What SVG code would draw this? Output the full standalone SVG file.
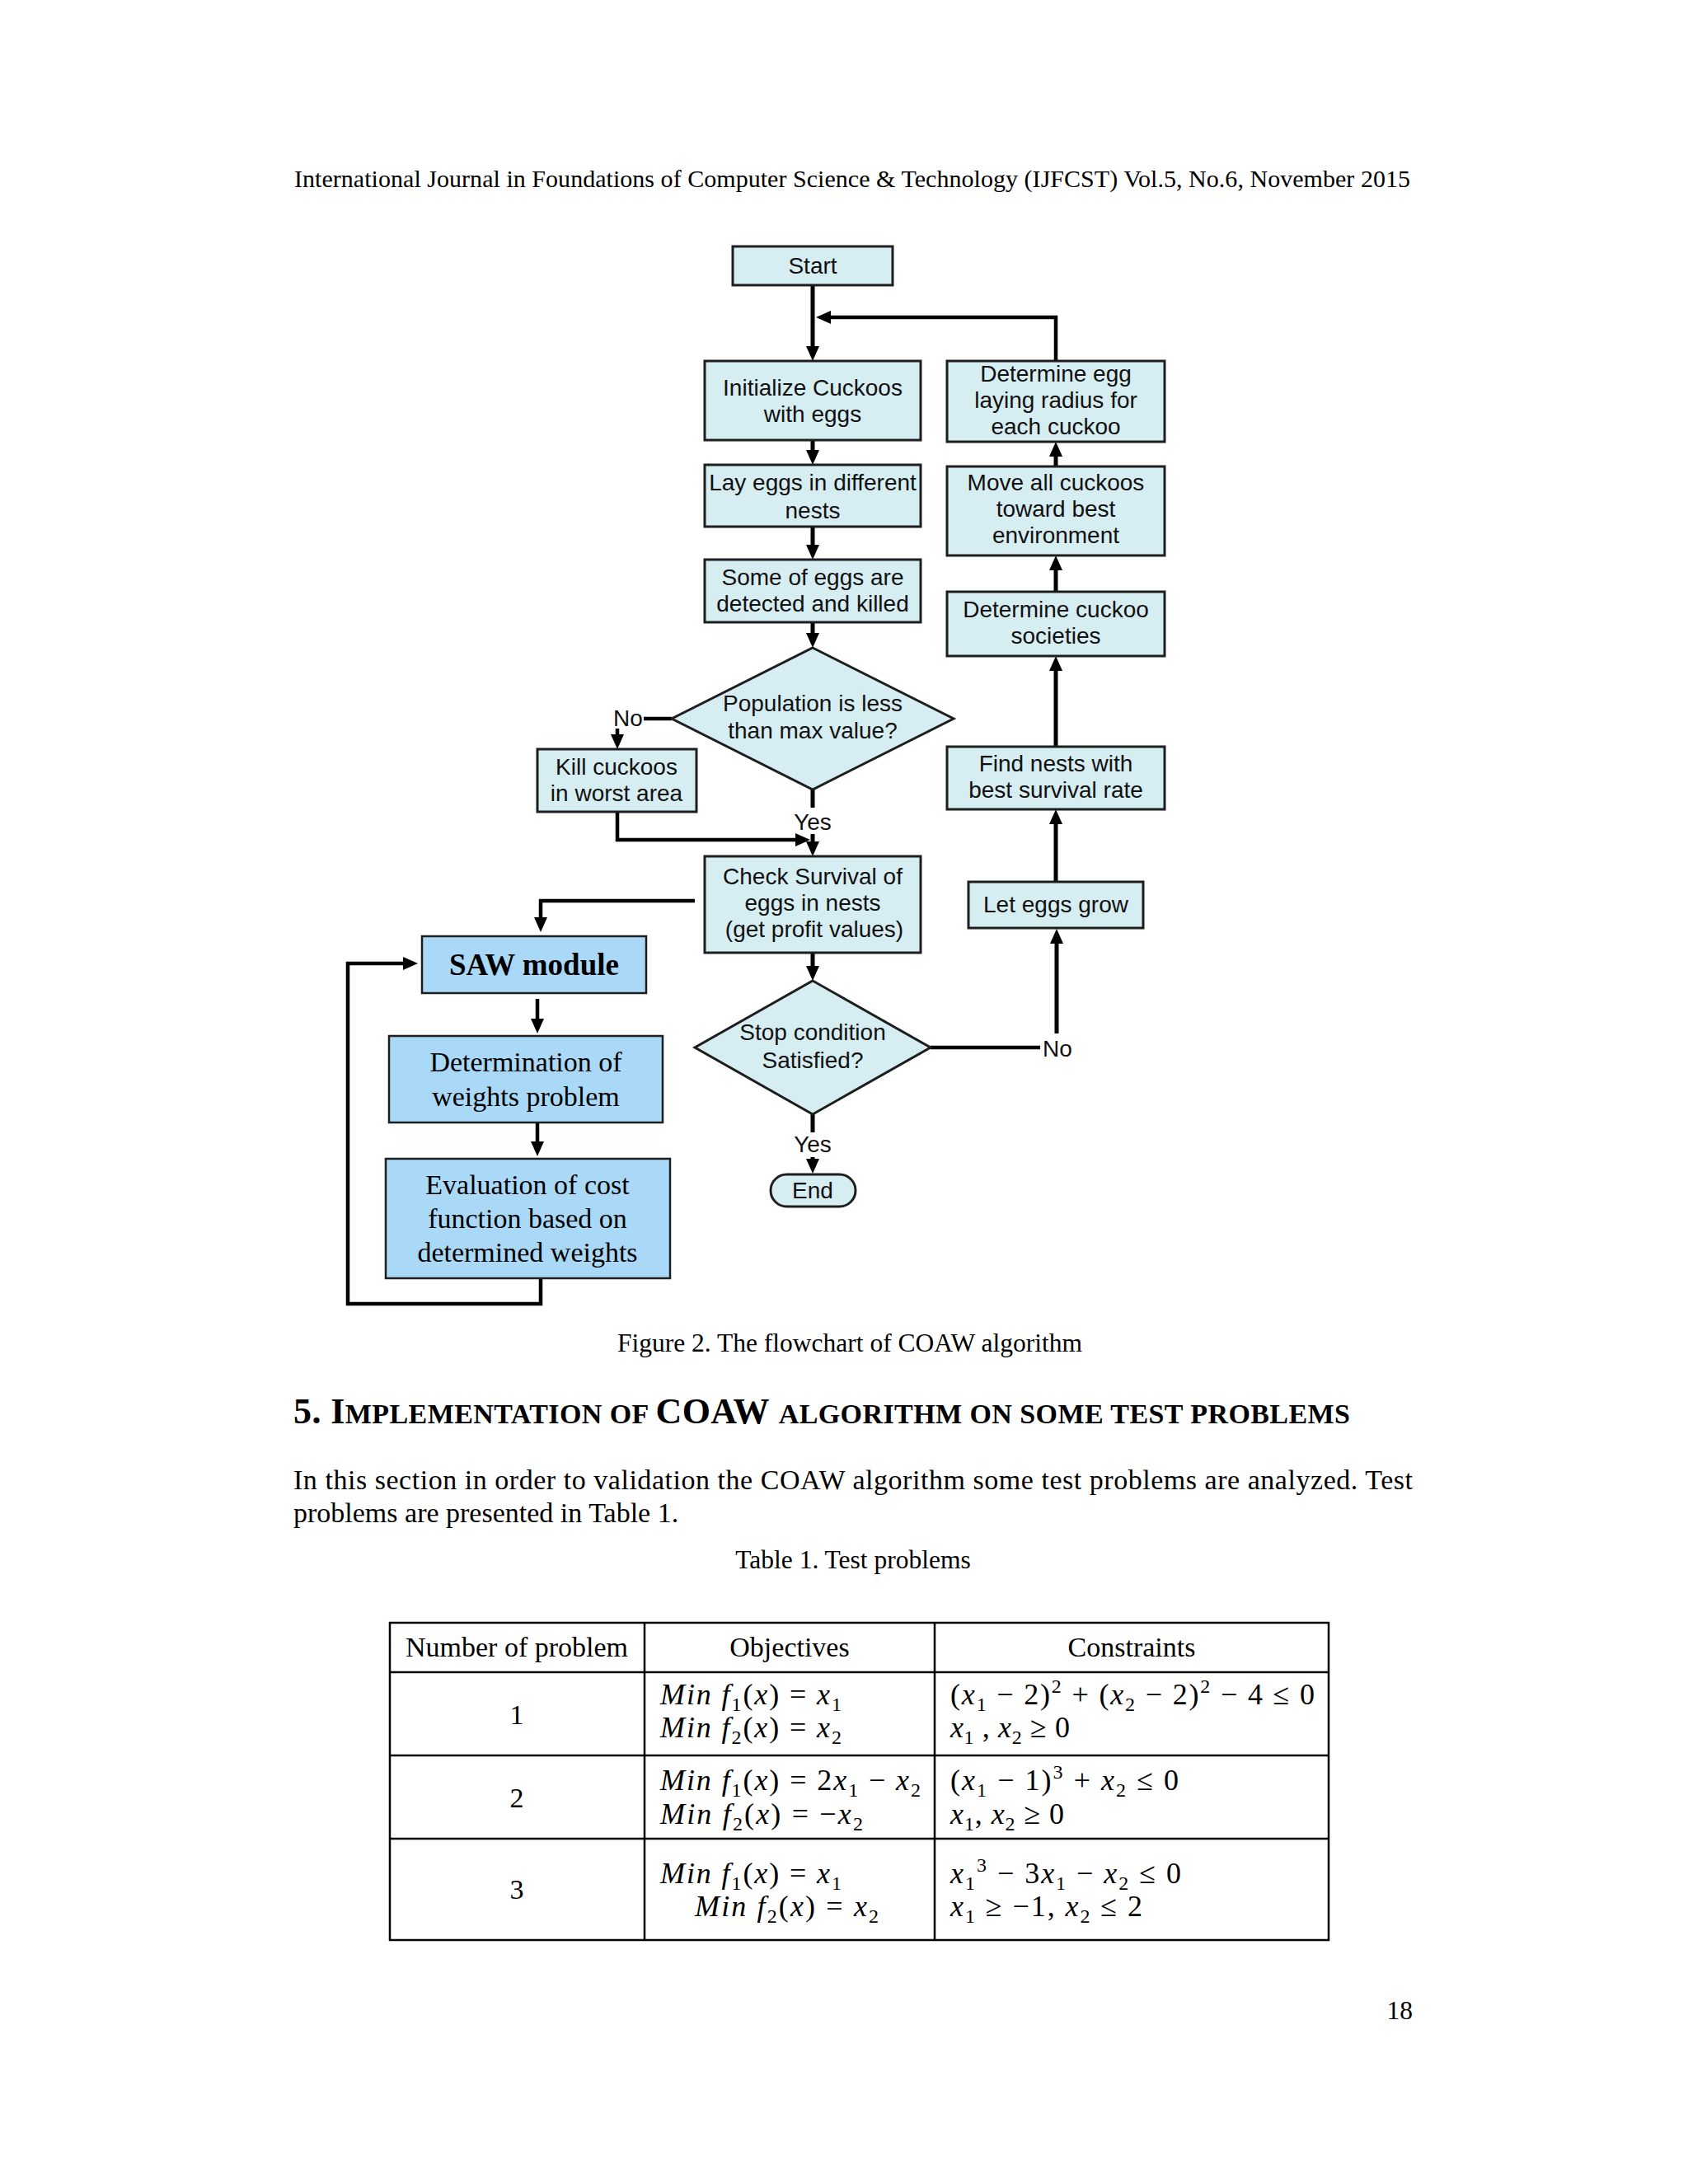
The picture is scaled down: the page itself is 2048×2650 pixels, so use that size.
<svg xmlns="http://www.w3.org/2000/svg" width="2048" height="2650" viewBox="0 0 2048 2650">
<style>
.bg{fill:#ffffff}
.box{fill:#d6edf1;stroke:#1e1e1e;stroke-width:3}
.saw{fill:#a9d9f7;stroke:#1e1e1e;stroke-width:2.5}
.ft{font-family:"Liberation Sans",Arial,sans-serif;font-size:28px;fill:#111;text-anchor:middle}
.st{font-family:"Liberation Serif","Times New Roman",serif;font-size:34px;fill:#000;text-anchor:middle}
.sb{font-family:"Liberation Serif","Times New Roman",serif;font-size:37px;font-weight:bold;fill:#000;text-anchor:middle}
.ln{fill:none;stroke:#000;stroke-width:5}
.lt{fill:none;stroke:#000;stroke-width:4.5}
.pg{font-family:"Liberation Serif","Times New Roman",serif;fill:#000}
.tb{fill:none;stroke:#000;stroke-width:2.5}
.m{font-family:"Liberation Serif","Times New Roman",serif;font-size:36px;fill:#000}
.i{font-style:italic}
.sub{font-size:24px}
.sup{font-size:24px}
</style>
<defs>
<marker id="ah" markerUnits="userSpaceOnUse" markerWidth="18" markerHeight="16" refX="4" refY="8" orient="auto" viewBox="0 0 18 16">
<path d="M0,0 L18,8 L0,16 z" fill="#000"/>
</marker>
</defs>
<rect class="bg" x="0" y="0" width="2048" height="2650"/>

<text class="pg" x="357" y="227" font-size="30" textLength="1354" lengthAdjust="spacing">International Journal in Foundations of Computer Science &amp; Technology (IJFCST) Vol.5, No.6, November 2015</text>

<g id="connectors">
<path class="ln" d="M986,346 V424" marker-end="url(#ah)"/>
<path class="lt" d="M1281,438 V385 H1004" marker-end="url(#ah)"/>
<path class="ln" d="M986,534 V550" marker-end="url(#ah)"/>
<path class="ln" d="M986,639 V665" marker-end="url(#ah)"/>
<path class="ln" d="M986,755 V772" marker-end="url(#ah)"/>
<path class="lt" d="M815,872 H781"/>
<path class="lt" d="M749,884 V895" marker-end="url(#ah)"/>
<path class="lt" d="M749,985 V1019 H969" marker-end="url(#ah)"/>
<path class="ln" d="M986,958 V980"/>
<path class="ln" d="M986,1012 V1025" marker-end="url(#ah)"/>
<path class="lt" d="M843,1093 H656 V1117" marker-end="url(#ah)"/>
<path class="lt" d="M656,1551 V1582 H422 V1169 H493" marker-end="url(#ah)"/>
<path class="lt" d="M652,1212 V1240" marker-end="url(#ah)"/>
<path class="lt" d="M652,1362 V1389" marker-end="url(#ah)"/>
<path class="ln" d="M986,1156 V1176" marker-end="url(#ah)"/>
<path class="lt" d="M1129,1271 H1262"/>
<path class="ln" d="M1282,1254 V1141" marker-end="url(#ah)"/>
<path class="ln" d="M986,1352 V1374"/>
<path class="ln" d="M986,1404 V1410" marker-end="url(#ah)"/>
<path class="ln" d="M1281,1070 V996" marker-end="url(#ah)"/>
<path class="ln" d="M1281,906 V810" marker-end="url(#ah)"/>
<path class="ln" d="M1281,718 V688" marker-end="url(#ah)"/>
<path class="ln" d="M1281,566 V550" marker-end="url(#ah)"/>
<text class="ft" x="762" y="881">No</text>
<text class="ft" x="986" y="1007">Yes</text>
<text class="ft" x="1283" y="1282">No</text>
<text class="ft" x="986" y="1398">Yes</text>
</g>

<g id="start">
<rect class="box" x="889" y="299" width="194" height="47"/>
<text class="ft" x="986" y="332">Start</text>
</g>
<g id="initialize">
<rect class="box" x="855" y="438" width="262" height="96"/>
<text class="ft" x="986" y="480">Initialize Cuckoos</text>
<text class="ft" x="986" y="512">with eggs</text>
</g>
<g id="lay-eggs">
<rect class="box" x="855" y="564" width="262" height="75"/>
<text class="ft" x="986" y="595">Lay eggs in different</text>
<text class="ft" x="986" y="629">nests</text>
</g>
<g id="some-eggs">
<rect class="box" x="855" y="679" width="262" height="76"/>
<text class="ft" x="986" y="710">Some of eggs are</text>
<text class="ft" x="986" y="742">detected and killed</text>
</g>
<g id="population">
<polygon class="box" points="986,786 1157,872 986,958 815,872"/>
<text class="ft" x="986" y="863">Population is less</text>
<text class="ft" x="986" y="896">than max value?</text>
</g>
<g id="kill">
<rect class="box" x="652" y="909" width="193" height="76"/>
<text class="ft" x="748" y="940">Kill cuckoos</text>
<text class="ft" x="748" y="972">in worst area</text>
</g>
<g id="check">
<rect class="box" x="855" y="1039" width="262" height="117"/>
<text class="ft" x="986" y="1073">Check Survival of</text>
<text class="ft" x="986" y="1105">eggs in nests</text>
<text class="ft" x="988" y="1137">(get profit values)</text>
</g>
<g id="stop">
<polygon class="box" points="986,1190 1129,1271 986,1352 843,1271"/>
<text class="ft" x="986" y="1262">Stop condition</text>
<text class="ft" x="986" y="1296">Satisfied?</text>
</g>
<g id="end">
<rect class="box" x="935" y="1425" width="103" height="39" rx="19.5" ry="19.5"/>
<text class="ft" x="986" y="1454">End</text>
</g>
<g id="let-eggs">
<rect class="box" x="1175" y="1070" width="212" height="56"/>
<text class="ft" x="1281" y="1107">Let eggs grow</text>
</g>
<g id="find-nests">
<rect class="box" x="1149" y="906" width="264" height="76"/>
<text class="ft" x="1281" y="936">Find nests with</text>
<text class="ft" x="1281" y="968">best survival rate</text>
</g>
<g id="societies">
<rect class="box" x="1149" y="718" width="264" height="78"/>
<text class="ft" x="1281" y="749">Determine cuckoo</text>
<text class="ft" x="1281" y="781">societies</text>
</g>
<g id="move">
<rect class="box" x="1149" y="566" width="264" height="108"/>
<text class="ft" x="1281" y="595">Move all cuckoos</text>
<text class="ft" x="1281" y="627">toward best</text>
<text class="ft" x="1281" y="659">environment</text>
</g>
<g id="radius">
<rect class="box" x="1149" y="438" width="264" height="98"/>
<text class="ft" x="1281" y="463">Determine egg</text>
<text class="ft" x="1281" y="495">laying radius for</text>
<text class="ft" x="1281" y="527">each cuckoo</text>
</g>
<g id="saw">
<rect class="saw" x="512" y="1136" width="272" height="69"/>
<text class="sb" x="648" y="1183">SAW module</text>
</g>
<g id="weights">
<rect class="saw" x="472" y="1257" width="332" height="105"/>
<text class="st" x="638" y="1300">Determination of</text>
<text class="st" x="638" y="1342">weights problem</text>
</g>
<g id="evaluation">
<rect class="saw" x="468" y="1406" width="345" height="145"/>
<text class="st" x="640" y="1449">Evaluation of cost</text>
<text class="st" x="640" y="1490">function based on</text>
<text class="st" x="640" y="1531">determined weights</text>
</g>

<text class="pg" x="1031" y="1640" font-size="31.5" text-anchor="middle">Figure 2. The flowchart of COAW algorithm</text>

<text class="pg" x="356" y="1727" font-weight="bold" textLength="1282" lengthAdjust="spacing"><tspan font-size="44">5. I</tspan><tspan font-size="34">MPLEMENTATION OF </tspan><tspan font-size="44">COAW </tspan><tspan font-size="34">ALGORITHM ON SOME TEST PROBLEMS</tspan></text>

<text class="pg" x="356" y="1807" font-size="34" textLength="1358" lengthAdjust="spacing">In this section in order to validation the COAW algorithm some test problems are analyzed. Test</text>
<text class="pg" x="356" y="1847" font-size="34">problems are presented in Table 1.</text>

<text class="pg" x="1035" y="1903" font-size="31.5" text-anchor="middle">Table 1. Test problems</text>

<g id="table">
<rect class="tb" x="473" y="1969" width="1139" height="385"/>
<line class="tb" x1="782" y1="1969" x2="782" y2="2354"/>
<line class="tb" x1="1134" y1="1969" x2="1134" y2="2354"/>
<line class="tb" x1="473" y1="2029" x2="1612" y2="2029"/>
<line class="tb" x1="473" y1="2130" x2="1612" y2="2130"/>
<line class="tb" x1="473" y1="2231" x2="1612" y2="2231"/>
<text class="pg" x="627" y="2010" font-size="34" text-anchor="middle">Number of problem</text>
<text class="pg" x="958" y="2010" font-size="34" text-anchor="middle">Objectives</text>
<text class="pg" x="1373" y="2010" font-size="34" text-anchor="middle">Constraints</text>
<text class="pg" x="627" y="2092" font-size="34" text-anchor="middle">1</text>
<text class="pg" x="627" y="2193" font-size="34" text-anchor="middle">2</text>
<text class="pg" x="627" y="2304" font-size="34" text-anchor="middle">3</text>

<text class="m" x="801" y="2068" textLength="220" lengthAdjust="spacing"><tspan class="i">Min f</tspan><tspan class="sub" baseline-shift="-8">1</tspan>(<tspan class="i">x</tspan>) = <tspan class="i">x</tspan><tspan class="sub" baseline-shift="-8">1</tspan></text>
<text class="m" x="801" y="2108" textLength="220" lengthAdjust="spacing"><tspan class="i">Min f</tspan><tspan class="sub" baseline-shift="-8">2</tspan>(<tspan class="i">x</tspan>) = <tspan class="i">x</tspan><tspan class="sub" baseline-shift="-8">2</tspan></text>
<text class="m" x="1153" y="2068" textLength="442" lengthAdjust="spacing">(<tspan class="i">x</tspan><tspan class="sub" baseline-shift="-8">1</tspan> − 2)<tspan class="sup" baseline-shift="14">2</tspan> + (<tspan class="i">x</tspan><tspan class="sub" baseline-shift="-8">2</tspan> − 2)<tspan class="sup" baseline-shift="14">2</tspan> − 4 ≤ 0</text>
<text class="m" x="1153" y="2108" textLength="145" lengthAdjust="spacing"><tspan class="i">x</tspan><tspan class="sub" baseline-shift="-8">1</tspan> , <tspan class="i">x</tspan><tspan class="sub" baseline-shift="-8">2</tspan> ≥ 0</text>

<text class="m" x="801" y="2172" textLength="316" lengthAdjust="spacing"><tspan class="i">Min f</tspan><tspan class="sub" baseline-shift="-8">1</tspan>(<tspan class="i">x</tspan>) = 2<tspan class="i">x</tspan><tspan class="sub" baseline-shift="-8">1</tspan> − <tspan class="i">x</tspan><tspan class="sub" baseline-shift="-8">2</tspan></text>
<text class="m" x="801" y="2213" textLength="246" lengthAdjust="spacing"><tspan class="i">Min f</tspan><tspan class="sub" baseline-shift="-8">2</tspan>(<tspan class="i">x</tspan>) = −<tspan class="i">x</tspan><tspan class="sub" baseline-shift="-8">2</tspan></text>
<text class="m" x="1153" y="2172" textLength="277" lengthAdjust="spacing">(<tspan class="i">x</tspan><tspan class="sub" baseline-shift="-8">1</tspan> − 1)<tspan class="sup" baseline-shift="14">3</tspan> + <tspan class="i">x</tspan><tspan class="sub" baseline-shift="-8">2</tspan> ≤ 0</text>
<text class="m" x="1153" y="2213" textLength="138" lengthAdjust="spacing"><tspan class="i">x</tspan><tspan class="sub" baseline-shift="-8">1</tspan>, <tspan class="i">x</tspan><tspan class="sub" baseline-shift="-8">2</tspan> ≥ 0</text>

<text class="m" x="801" y="2285" textLength="220" lengthAdjust="spacing"><tspan class="i">Min f</tspan><tspan class="sub" baseline-shift="-8">1</tspan>(<tspan class="i">x</tspan>) = <tspan class="i">x</tspan><tspan class="sub" baseline-shift="-8">1</tspan></text>
<text class="m" x="843" y="2325" textLength="223" lengthAdjust="spacing"><tspan class="i">Min f</tspan><tspan class="sub" baseline-shift="-8">2</tspan>(<tspan class="i">x</tspan>) = <tspan class="i">x</tspan><tspan class="sub" baseline-shift="-8">2</tspan></text>
<text class="m" x="1153" y="2285" textLength="280" lengthAdjust="spacing"><tspan class="i">x</tspan><tspan class="sub" baseline-shift="-8">1</tspan><tspan class="sup" baseline-shift="14">3</tspan> − 3<tspan class="i">x</tspan><tspan class="sub" baseline-shift="-8">1</tspan> − <tspan class="i">x</tspan><tspan class="sub" baseline-shift="-8">2</tspan> ≤ 0</text>
<text class="m" x="1153" y="2325" textLength="233" lengthAdjust="spacing"><tspan class="i">x</tspan><tspan class="sub" baseline-shift="-8">1</tspan> ≥ −1, <tspan class="i">x</tspan><tspan class="sub" baseline-shift="-8">2</tspan> ≤ 2</text>
</g>

<text class="pg" x="1714" y="2450" font-size="31.5" text-anchor="end">18</text>
</svg>
